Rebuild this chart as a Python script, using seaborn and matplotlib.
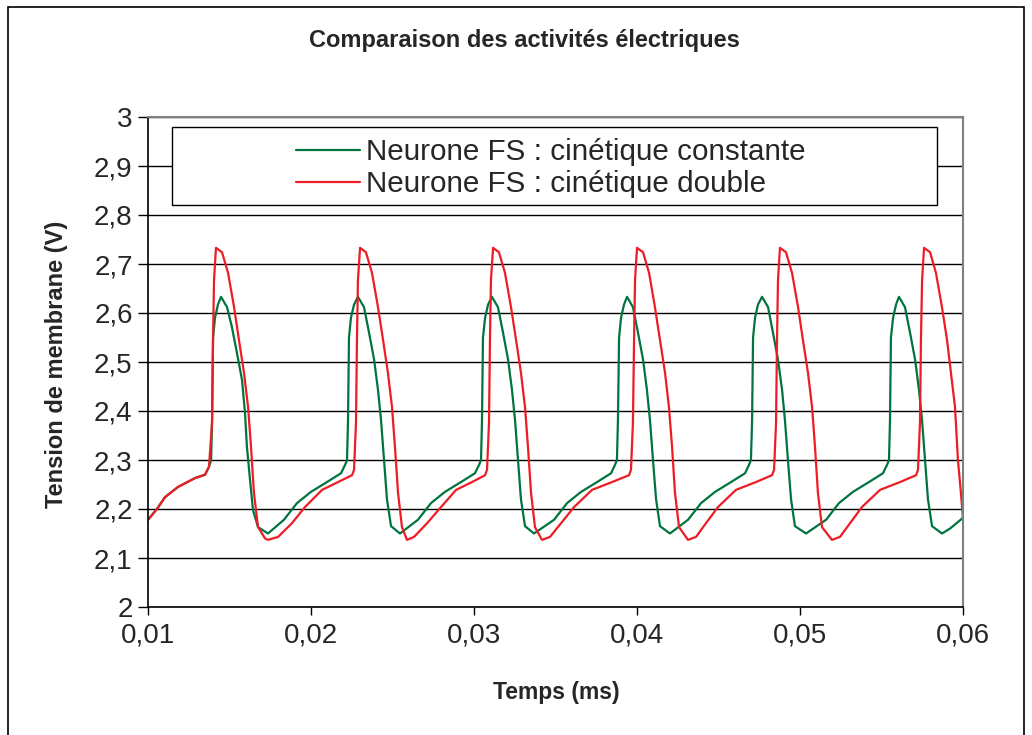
import matplotlib
matplotlib.use("Agg")
import numpy as np
import pandas as pd
import matplotlib.pyplot as plt
from matplotlib.patches import Rectangle
from matplotlib.lines import Line2D
from matplotlib.ticker import FuncFormatter
import seaborn as sns

title = "Comparaison des activités électriques"
xlabel = "Temps (ms)"
ylabel = "Tension de membrane (V)"
series_names = ["Neurone FS : cinétique constante", "Neurone FS : cinétique double"]
series_colors = ["#00743F", "#EE1C25"]
x_ticks = [0.01, 0.02, 0.03, 0.04, 0.05, 0.06]
y_ticks = [2.0, 2.1, 2.2, 2.3, 2.4, 2.5, 2.6, 2.7, 2.8, 2.9, 3.0]

# --- cinétique constante (green) ---
t_const = [
    0.01000, 0.01055, 0.01104, 0.01184, 0.01288, 0.01350, 0.01374,
    0.01387, 0.01393, 0.01399, 0.01411, 0.01429, 0.01448, 0.01485, 0.01515, 0.01546, 0.01577, 0.01595,
    0.01607, 0.01626, 0.01644, 0.01675, 0.01736, 0.01834, 0.01914, 0.02000, 0.02098, 0.02184, 0.02209,
    0.02221, 0.02227, 0.02233, 0.02245, 0.02264, 0.02288, 0.02325, 0.02356, 0.02387, 0.02411, 0.02430,
    0.02448, 0.02466, 0.02491, 0.02546, 0.02656, 0.02736, 0.02822, 0.02920, 0.03006, 0.03031,
    0.03043, 0.03049, 0.03055, 0.03068, 0.03086, 0.03110, 0.03147, 0.03178, 0.03209, 0.03233, 0.03252,
    0.03270, 0.03288, 0.03313, 0.03368, 0.03491, 0.03571, 0.03657, 0.03755, 0.03841, 0.03865,
    0.03877, 0.03883, 0.03890, 0.03902, 0.03920, 0.03939, 0.03975, 0.04006, 0.04037, 0.04061, 0.04080,
    0.04098, 0.04117, 0.04141, 0.04202, 0.04313, 0.04393, 0.04479, 0.04577, 0.04663, 0.04687,
    0.04699, 0.04706, 0.04712, 0.04724, 0.04742, 0.04767, 0.04804, 0.04834, 0.04865, 0.04890, 0.04908,
    0.04926, 0.04945, 0.04969, 0.05037, 0.05160, 0.05239, 0.05325, 0.05423, 0.05509, 0.05534,
    0.05546, 0.05552, 0.05558, 0.05571, 0.05589, 0.05607, 0.05644, 0.05675, 0.05706, 0.05730, 0.05749,
    0.05767, 0.05785, 0.05810, 0.05871, 0.05920, 0.06000,
]
v_const = [
    2.178, 2.200, 2.224, 2.245, 2.263, 2.270, 2.286,
    2.300, 2.380, 2.550, 2.590, 2.617, 2.633, 2.612, 2.571, 2.518, 2.463, 2.396,
    2.327, 2.259, 2.198, 2.163, 2.150, 2.178, 2.212, 2.235, 2.255, 2.273, 2.290,
    2.300, 2.380, 2.550, 2.590, 2.617, 2.633, 2.612, 2.560, 2.505, 2.443, 2.380,
    2.300, 2.220, 2.165, 2.150, 2.178, 2.212, 2.235, 2.255, 2.273, 2.290,
    2.300, 2.380, 2.550, 2.590, 2.617, 2.633, 2.612, 2.560, 2.505, 2.443, 2.380,
    2.300, 2.220, 2.165, 2.150, 2.178, 2.212, 2.235, 2.255, 2.273, 2.290,
    2.300, 2.380, 2.550, 2.590, 2.617, 2.633, 2.612, 2.560, 2.505, 2.443, 2.380,
    2.300, 2.220, 2.165, 2.150, 2.178, 2.212, 2.235, 2.255, 2.273, 2.290,
    2.300, 2.380, 2.550, 2.590, 2.617, 2.633, 2.612, 2.560, 2.505, 2.443, 2.380,
    2.300, 2.220, 2.165, 2.150, 2.178, 2.212, 2.235, 2.255, 2.273, 2.290,
    2.300, 2.380, 2.550, 2.590, 2.617, 2.633, 2.612, 2.560, 2.505, 2.443, 2.380,
    2.300, 2.220, 2.165, 2.150, 2.160, 2.182,
]

# --- cinétique double (red) ---
t_double = [
    0.01000, 0.01055, 0.01104, 0.01184, 0.01288, 0.01350, 0.01374,
    0.01393, 0.01399, 0.01405, 0.01417, 0.01454, 0.01491, 0.01528, 0.01558, 0.01589, 0.01614, 0.01632,
    0.01650, 0.01675, 0.01718, 0.01736, 0.01798, 0.01883, 0.01963, 0.02068, 0.02166, 0.02252, 0.02264,
    0.02276, 0.02282, 0.02288, 0.02301, 0.02337, 0.02374, 0.02411, 0.02442, 0.02472, 0.02497, 0.02515,
    0.02534, 0.02558, 0.02589, 0.02632, 0.02712, 0.02798, 0.02890, 0.02988, 0.03068, 0.03080,
    0.03092, 0.03098, 0.03104, 0.03117, 0.03153, 0.03190, 0.03227, 0.03258, 0.03288, 0.03313, 0.03331,
    0.03350, 0.03374, 0.03417, 0.03466, 0.03534, 0.03614, 0.03724, 0.03847, 0.03951, 0.03963,
    0.03975, 0.03982, 0.03988, 0.04000, 0.04037, 0.04074, 0.04110, 0.04141, 0.04172, 0.04196, 0.04215,
    0.04233, 0.04258, 0.04313, 0.04362, 0.04423, 0.04497, 0.04607, 0.04730, 0.04828, 0.04841,
    0.04853, 0.04859, 0.04865, 0.04877, 0.04914, 0.04951, 0.04988, 0.05018, 0.05049, 0.05074, 0.05092,
    0.05110, 0.05135, 0.05196, 0.05245, 0.05307, 0.05380, 0.05491, 0.05614, 0.05712, 0.05724,
    0.05736, 0.05742, 0.05749, 0.05761, 0.05798, 0.05834, 0.05871, 0.05902, 0.05926, 0.05951, 0.05969,
    0.05988, 0.06000,
]
v_double = [
    2.178, 2.200, 2.224, 2.245, 2.263, 2.270, 2.286,
    2.376, 2.545, 2.667, 2.733, 2.724, 2.682, 2.612, 2.545, 2.478, 2.408, 2.327,
    2.233, 2.163, 2.140, 2.137, 2.143, 2.171, 2.204, 2.239, 2.255, 2.269, 2.280,
    2.376, 2.545, 2.667, 2.733, 2.724, 2.682, 2.612, 2.545, 2.478, 2.408, 2.327,
    2.233, 2.163, 2.137, 2.143, 2.171, 2.204, 2.239, 2.255, 2.269, 2.280,
    2.376, 2.545, 2.667, 2.733, 2.724, 2.682, 2.612, 2.545, 2.478, 2.408, 2.327,
    2.233, 2.163, 2.137, 2.143, 2.171, 2.204, 2.239, 2.255, 2.269, 2.280,
    2.376, 2.545, 2.667, 2.733, 2.724, 2.682, 2.612, 2.545, 2.478, 2.408, 2.327,
    2.233, 2.163, 2.137, 2.143, 2.171, 2.204, 2.239, 2.255, 2.269, 2.280,
    2.376, 2.545, 2.667, 2.733, 2.724, 2.682, 2.612, 2.545, 2.478, 2.408, 2.327,
    2.233, 2.163, 2.137, 2.143, 2.171, 2.204, 2.239, 2.255, 2.269, 2.280,
    2.376, 2.545, 2.667, 2.733, 2.724, 2.682, 2.612, 2.545, 2.478, 2.408, 2.300,
    2.230, 2.180,
]

df = pd.concat([
    pd.DataFrame({"t": t_const, "v": v_const, "serie": series_names[0]}),
    pd.DataFrame({"t": t_double, "v": v_double, "serie": series_names[1]}),
], ignore_index=True)

sns.set_theme(style="ticks")
plt.rcParams["font.family"] = ["Liberation Sans", "DejaVu Sans"]

W, H = 1032, 735
fig = plt.figure(figsize=(W / 100, H / 100), dpi=100)
ax = fig.add_axes([148 / W, 1 - 607 / H, (963 - 148) / W, (607 - 117) / H])

sns.lineplot(data=df, x="t", y="v", hue="serie", palette=series_colors,
             hue_order=series_names, estimator=None, sort=False,
             linewidth=1.6, ax=ax, legend=False)

ax.set_xlim(0.01, 0.06)
ax.set_ylim(2.0, 3.0)
ax.set_xticks(x_ticks)
ax.set_yticks(y_ticks)
ax.xaxis.set_major_formatter(FuncFormatter(lambda v, p: f"{v:.2f}".replace(".", ",")))
ax.yaxis.set_major_formatter(FuncFormatter(lambda v, p: f"{round(v, 1):g}".replace(".", ",")))
ax.set_xlabel("")
ax.set_ylabel("")

ax.yaxis.grid(True, color="black", linewidth=1.0)
ax.set_axisbelow(True)
ax.tick_params(axis="y", direction="out", length=7, width=1, color="black",
               labelsize=20, pad=4)
ax.tick_params(axis="x", direction="out", length=6, width=1, color="black",
               labelsize=20, pad=5)
for s in ["left", "bottom"]:
    ax.spines[s].set_color("black")
    ax.spines[s].set_linewidth(1.2)
for s in ["top", "right"]:
    ax.spines[s].set_visible(True)
    ax.spines[s].set_color("#808080")
    ax.spines[s].set_linewidth(1.5)

fig.text(524 / W, 1 - 41 / H, title, ha="center", va="center",
         fontsize=17, fontweight="bold")
fig.text(556 / W, 1 - 692 / H, xlabel, ha="center", va="center",
         fontsize=16.5, fontweight="bold")
fig.text(57 / W, 1 - 364 / H, ylabel, ha="center", va="center",
         rotation=90, fontsize=17, fontweight="bold")

# legend box
fig.patches.append(Rectangle((172 / W, 1 - 205 / H), (937 - 172) / W, (205 - 127) / H,
                             transform=fig.transFigure, facecolor="white",
                             edgecolor="black", linewidth=1.0, zorder=3))
handles = [Line2D([], [], color=c, linewidth=1.6) for c in series_colors]
fig.legend(handles, series_names, loc="center",
           bbox_to_anchor=(551 / W, 1 - 168 / H), frameon=False, fontsize=21.3,
           handlelength=2.15, handletextpad=0.22, labelspacing=0.14,
           borderpad=0.0)

# outer border
fig.patches.append(Rectangle((8 / W, -0.05), (1024 - 8) / W, 1.05 - 7 / H,
                             transform=fig.transFigure, fill=False,
                             edgecolor="black", linewidth=1.2, zorder=10))

fig.savefig("out.png", dpi=100, facecolor="white")
